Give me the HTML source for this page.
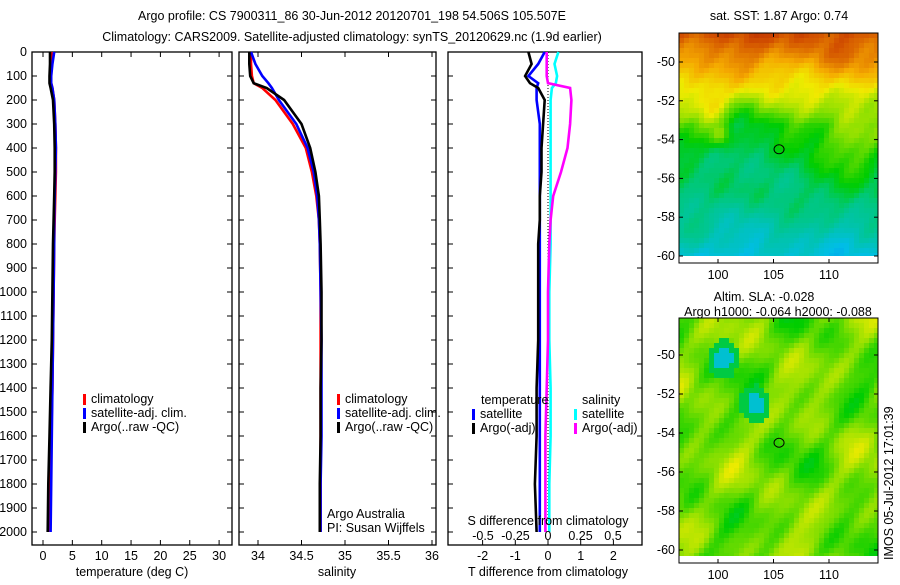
<!DOCTYPE html>
<html><head><meta charset="utf-8"><style>
body{margin:0;background:#fff;width:900px;height:580px;overflow:hidden}
svg text{font-family:"Liberation Sans",sans-serif;font-size:12.5px;fill:#000}
</style></head><body>
<svg id="s" width="900" height="580" xmlns="http://www.w3.org/2000/svg">
<text x="352" y="20" text-anchor="middle">Argo profile: CS 7900311_86 30-Jun-2012 20120701_198 54.506S 105.507E</text>
<text x="352" y="41" text-anchor="middle">Climatology: CARS2009. Satellite-adjusted climatology: synTS_20120629.nc (1.9d earlier)</text>
<g id="g"></g>
</svg>
<script>
const depths=[0,50,100,130,150,200,300,400,500,600,700,800,1000,1200,1400,1600,1800,2000];
const tempClim=[1.6,1.5,1.3,1.4,1.6,1.9,2.1,2.2,2.2,2.1,2.0,1.9,1.8,1.7,1.6,1.4,1.3,1.2];
const tempSat=[1.9,1.6,1.4,1.4,1.6,1.9,2.1,2.2,2.1,2.0,1.9,1.9,1.8,1.7,1.6,1.5,1.4,1.3];
const tempArgo=[1.2,1.2,1.1,1.1,1.3,1.7,1.9,2.0,2.0,1.9,1.8,1.7,1.6,1.5,1.3,1.1,0.9,0.8];
const salClim=[33.92,33.92,33.93,33.95,34.05,34.2,34.4,34.55,34.62,34.67,34.7,34.71,34.72,34.72,34.72,34.72,34.72,34.72];
const salSat=[33.92,33.97,34.05,34.12,34.16,34.24,34.44,34.57,34.64,34.68,34.7,34.71,34.72,34.73,34.73,34.73,34.72,34.72];
const salArgo=[33.9,33.9,33.91,33.95,34.1,34.3,34.5,34.6,34.66,34.7,34.71,34.72,34.73,34.73,34.72,34.72,34.71,34.71];
const tdSat=[-0.1,-0.3,-0.6,-0.3,-0.35,-0.35,-0.25,-0.25,-0.25,-0.25,-0.25,-0.25,-0.25,-0.25,-0.25,-0.25,-0.25,-0.25];
const tdArgo=[-0.6,-0.5,-0.7,-0.55,-0.3,-0.1,-0.15,-0.2,-0.2,-0.25,-0.25,-0.3,-0.3,-0.3,-0.35,-0.35,-0.4,-0.35];
const sdSat=[0.08,0.05,0.07,0.06,0.03,0.02,0.02,0.02,0.02,0.02,0.02,0.02,0.01,0.01,0.02,0.02,0.01,0.01];
const sdArgo=[-0.01,-0.01,-0.01,0.0,0.17,0.18,0.17,0.15,0.1,0.04,0.02,0.01,0.0,0.0,-0.01,-0.02,-0.02,-0.02];
const depthTicks=[0,100,200,300,400,500,600,700,800,900,1000,1100,1200,1300,1400,1500,1600,1700,1800,1900,2000];
const tempTicks=[0,5,10,15,20,25,30];
const salTicks=[34,34.5,35,35.5,36];
const tdTicks=[-2,-1,0,1,2];
const sdTicks=["-0.5","-0.25","0","0.25","0.5"];
const latTicks=[-50,-52,-54,-56,-58,-60];
const lonTicks=[100,105,110];

const NS="http://www.w3.org/2000/svg",G=document.getElementById('g');
function el(t,a,txt){const e=document.createElementNS(NS,t);for(const k in a)e.setAttribute(k,a[k]);if(txt!=null)e.textContent=txt;G.appendChild(e);return e;}
const TOP=52,BOT=545;
const yD=d=>TOP+d*0.24;
const P=[{l:32,r:232},{l:239,r:436},{l:448,r:642}];
const xT=v=>43+v*5.87, xS=v=>258+(v-34)*87, xTD=v=>548+v*32.7, xSD=v=>548+v*130;
P.forEach((p,i)=>{
  let r=el('rect',{x:p.l,y:TOP,width:p.r-p.l,height:BOT-TOP,fill:'none',stroke:'#000','stroke-width':1.3});
  
  depthTicks.forEach(d=>{el('line',{x1:p.l,x2:p.l+5,y1:yD(d),y2:yD(d),stroke:'#000'});el('line',{x1:p.r,x2:p.r-5,y1:yD(d),y2:yD(d),stroke:'#000'});});
});
depthTicks.forEach(d=>{let t=el('text',{x:27,y:yD(d)+4,'text-anchor':'end'},d);});
function xticks(vals,f,p,labels){vals.forEach((v,i)=>{const x=f(v);el('line',{x1:x,x2:x,y1:BOT,y2:BOT-5,stroke:'#000'});el('line',{x1:x,x2:x,y1:TOP,y2:TOP+5,stroke:'#000'});let t=el('text',{x:x,y:BOT+15,'text-anchor':'middle'},labels?labels[i]:v);});}
xticks(tempTicks,xT,P[0]);xticks(salTicks,xS,P[1]);
tdTicks.forEach(v=>{const x=xTD(v);el('line',{x1:x,x2:x,y1:BOT,y2:BOT-5,stroke:'#000'});let t=el('text',{x:x,y:BOT+15,'text-anchor':'middle'},v);});
[[132,'temperature (deg C)','x-axis-title-temperature'],[337,'salinity','x-axis-title-salinity'],[548,'T difference from climatology','x-axis-title-tdiff']].forEach(a=>{let t=el('text',{x:a[0],y:576,'text-anchor':'middle'},a[1]);});
el('line',{x1:548,x2:548,y1:TOP,y2:BOT-20,stroke:'#000','stroke-dasharray':'1,2'});
function line(vals,f,col,name,w){const pts=vals.map((v,i)=>f(v).toFixed(1)+','+yD(depths[i]).toFixed(1)).join(' ');let l=el('polyline',{points:pts,fill:'none',stroke:col,'stroke-width':w||2.6});}
line(tempClim,xT,'#f00','temp-climatology-line');line(tempSat,xT,'#00f','temp-satellite-line');line(tempArgo,xT,'#000','temp-argo-line');
line(salClim,xS,'#f00','sal-climatology-line');line(salSat,xS,'#00f','sal-satellite-line');line(salArgo,xS,'#000','sal-argo-line');
line(tdSat,xTD,'#00f','tdiff-satellite-line');line(tdArgo,xTD,'#000','tdiff-argo-line');
line(sdSat,xSD,'#0ff','sdiff-satellite-line');line(sdArgo,xSD,'#f0f','sdiff-argo-line');
let st=el('text',{x:548,y:525,'text-anchor':'middle'},'S difference from climatology');
sdTicks.forEach(v=>{let t=el('text',{x:xSD(+v),y:540,'text-anchor':'middle'},v);});
function legend(x,y,items,name){items.forEach((it,i)=>{el('rect',{x:x,y:y+i*14-9,width:3,height:11,fill:it[0]});let t=el('text',{x:x+8,y:y+i*14},it[1]);});}
const L=[['#f00','climatology'],['#00f','satellite-adj. clim.'],['#000','Argo(..raw -QC)']];
legend(83,403,L,'temp-legend');legend(337,403,L,'sal-legend');
let h1=el('text',{x:481,y:404},'temperature');
let h2=el('text',{x:582,y:404},'salinity');
legend(472,418,[['#00f','satellite'],['#000','Argo(-adj)']],'tdiff-legend');
legend(574,418,[['#0ff','satellite'],['#f0f','Argo(-adj)']],'sdiff-legend');
let a1=el('text',{x:327,y:518},'Argo Australia');
let a2=el('text',{x:327,y:532},'PI: Susan Wijffels');

// maps
const CM=[[0,[0,90,255]],[0.22,[0,190,230]],[0.38,[0,200,120]],[0.47,[0,205,0]],[0.58,[150,225,0]],[0.66,[240,235,0]],[0.76,[245,170,0]],[0.88,[210,80,0]],[1,[160,0,0]]];
function cmap(v){v=Math.max(0,Math.min(1,v));for(let k=1;k<CM.length;k++){if(v<=CM[k][0]){const a=CM[k-1],b=CM[k],t=(v-a[0])/(b[0]-a[0]);return 'rgb('+a[1].map((c,i)=>Math.round(c+(b[1][i]-c)*t)).join(',')+')';}}return 'rgb(160,0,0)';}
function noise(x,y,s){return 0.5*Math.sin(x*0.31+s)*Math.cos(y*0.27+s*1.7)+0.3*Math.sin(x*0.73+y*0.41+s*2.3)+0.25*Math.cos(x*0.19-y*0.57+s*3.1)+0.15*Math.sin(x*1.37+y*1.11+s);}
function map(x0,y0,w,h,fn,name,ly){
  const c=5,nx=Math.ceil(w/c),ny=Math.ceil((h-7)/c);
  for(let j=0;j<ny;j++)for(let i=0;i<nx;i++){el('rect',{x:x0+i*c,y:y0+j*c,width:Math.min(c,w-i*c),height:Math.min(c,h-7-j*c),fill:cmap(fn(i/nx,j/ny,i,j))});}
  let r=el('rect',{x:x0,y:y0,width:w,height:h,fill:'none',stroke:'#000'});
  latTicks.forEach(l=>{const y=ly(l);el('line',{x1:x0,x2:x0+4,y1:y,y2:y,stroke:'#000'});el('line',{x1:x0+w,x2:x0+w-4,y1:y,y2:y,stroke:'#000'});let t=el('text',{x:x0-4,y:y+4,'text-anchor':'end'},l);});
  lonTicks.forEach(l=>{const x=718+(l-100)*11.1;el('line',{x1:x,x2:x,y1:y0+h,y2:y0+h-4,stroke:'#000'});el('line',{x1:x,x2:x,y1:y0,y2:y0+4,stroke:'#000'});let t=el('text',{x:x,y:y0+h+16,'text-anchor':'middle'},l);});
  el('ellipse',{cx:718+5.5*11.1,cy:ly(-54.5),rx:5,ry:4.5,fill:'none',stroke:'#000'});
}
const bump=(u,v,cu,cv,r)=>Math.exp(-((u-cu)**2+(v-cv)**2)/(r*r));
function sst(u,v,i,j){
  let b;
  if(v<0.1)b=0.88-0.8*v;
  else if(v<0.4)b=0.8-1.0*(v-0.1);
  else if(v<0.7)b=0.5-0.3*(v-0.4);
  else b=0.41-0.6*(v-0.7);
  b-=0.08*bump(u,v,0.3,0.55,0.2);
  b+=0.12*bump(u,v,0.85,0.45,0.12)+0.12*bump(u,v,0.15,0.32,0.08)+0.12*bump(u,v,0.2,0.45,0.05);
  return b+0.06*noise(i,j,1);
}
map(679,33,199,230,sst,'sst-map',l=>62+(-50-l)*19.4);
map(679,318,199,245,(u,v,i,j)=>{let b=0.55+0.1*noise(i*0.8,j*0.8,2);const d1=Math.hypot(u-0.21,v-0.16),d2=Math.hypot(u-0.37,v-0.35);if(d1<0.045||d2<0.045)b=0.25;else if(d1<0.08||d2<0.08)b=0.42;return b;},'sla-map',l=>355+(-50-l)*19.5);
let mt=el('text',{x:779,y:20,'text-anchor':'middle'},'sat. SST: 1.87 Argo: 0.74');
let m2=el('text',{x:764,y:301,'text-anchor':'middle'},'Altim. SLA: -0.028');
let m3=el('text',{x:778,y:316,'text-anchor':'middle'},'Argo h1000: -0.064 h2000: -0.088');
let ts=el('text',{x:893,y:560,transform:'rotate(-90 893 560)'},'IMOS 05-Jul-2012 17:01:39');
</script>
</body></html>
